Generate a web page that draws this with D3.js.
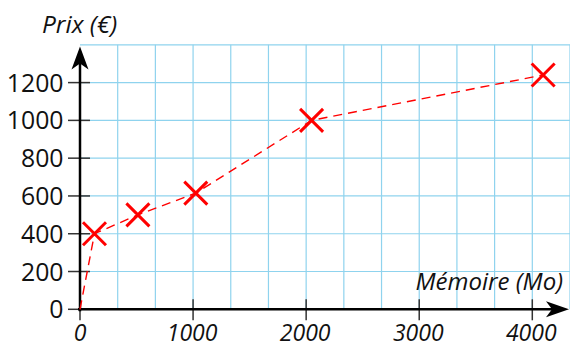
<style>body { margin: 0; } svg { display: block; }</style>
<svg width="570" height="345"></svg>

<script src="https://cdn.jsdelivr.net/npm/d3@7"></script>
<script>
	// memory (Mo) vs price (euros)
	const memoire = [128, 512, 1024, 2048, 4096]
	const prix = [400, 500, 615, 1000, 1240]
	const xTicks = [0, 1000, 2000, 3000, 4000]
	const yTicks = [0, 200, 400, 600, 800, 1000, 1200]

	const svg = d3.select("svg")
		.attr("font-family", "'Open Sans', sans-serif")

	const x = d3.scaleLinear().domain([0, 4000]).range([80, 532.3])
	const y = d3.scaleLinear().domain([0, 1200]).range([309.3, 82.6])

	// grid: every 1000/3 on x, every 200 on y
	const xGrid = d3.range(1, 14).map(i => i * 1000 / 3)
	const yGrid = d3.range(200, 1401, 200)

	const grid = svg.append("g")
		.attr("stroke", "#8fd3ee")
		.attr("stroke-width", 1.2)
	grid.selectAll("line.v")
		.data(xGrid)
		.join("line")
			.attr("class", "v")
			.attr("x1", d => x(d)).attr("x2", d => x(d))
			.attr("y1", y(1400)).attr("y2", y(0))
	grid.selectAll("line.h")
		.data(yGrid)
		.join("line")
			.attr("class", "h")
			.attr("x1", x(0)).attr("x2", 570)
			.attr("y1", d => y(d)).attr("y2", d => y(d))

	// ticks
	svg.append("g")
		.attr("stroke", "#333")
		.attr("stroke-width", 1.5)
		.selectAll("line")
		.data(yTicks)
		.join("line")
			.attr("x1", x(0) - 12).attr("x2", x(0) + 10)
			.attr("y1", d => y(d)).attr("y2", d => y(d))
	svg.append("g")
		.attr("stroke", "#333")
		.attr("stroke-width", 1.5)
		.selectAll("line")
		.data(xTicks)
		.join("line")
			.attr("x1", d => x(d)).attr("x2", d => x(d))
			.attr("y1", y(0) - 10).attr("y2", y(0) + 11)

	// axes with arrows
	svg.append("line")
		.attr("x1", x(0) - 2).attr("x2", 560)
		.attr("y1", y(0)).attr("y2", y(0))
		.attr("stroke", "#000").attr("stroke-width", 2.5)
	svg.append("line")
		.attr("x1", x(0)).attr("x2", x(0))
		.attr("y1", y(0) + 2).attr("y2", 56)
		.attr("stroke", "#000").attr("stroke-width", 2.5)

	const tipX = 569, tipY = 46.5
	svg.append("path")
		.attr("d", `M${tipX},${y(0)} L${tipX - 23},${y(0) - 8} L${tipX - 17},${y(0)} L${tipX - 23},${y(0) + 8} Z`)
		.attr("fill", "#000")
	svg.append("path")
		.attr("d", `M${x(0)},${tipY} L${x(0) - 8.5},${tipY + 23} L${x(0)},${tipY + 17} L${x(0) + 8.5},${tipY + 23} Z`)
		.attr("fill", "#000")

	// tick labels
	svg.append("g")
		.attr("font-size", 24.8)
		.attr("text-anchor", "end")
		.selectAll("text")
		.data(yTicks)
		.join("text")
			.attr("x", 63.5)
			.attr("y", d => y(d) + 9)
			.attr("fill", "#111")
			.text(d => d)
	svg.append("g")
		.attr("font-size", 23)
		.attr("font-style", "italic")
		.attr("text-anchor", "middle")
		.selectAll("text")
		.data(xTicks)
		.join("text")
			.attr("x", d => x(d) + (d === 0 ? 0 : -1))
			.attr("y", 340.5)
			.attr("fill", "#111")
			.text(d => d)

	// axis titles
	svg.append("text")
		.attr("x", 42).attr("y", 33)
		.attr("font-size", 24.5)
		.attr("font-style", "italic")
		.attr("fill", "#111")
		.text("Prix (€)")
	svg.append("text")
		.attr("x", 563).attr("y", 290)
		.attr("font-size", 24)
		.attr("font-style", "italic")
		.attr("text-anchor", "end")
		.attr("fill", "#111")
		.text("Mémoire (Mo)")

	// dashed line from origin through points
	const pts = [[0, 0]].concat(memoire.map((m, i) => [m, prix[i]]))
	svg.append("path")
		.attr("d", d3.line().x(d => x(d[0])).y(d => y(d[1]))(pts))
		.attr("fill", "none")
		.attr("stroke", "#ff0000")
		.attr("stroke-width", 1.4)
		.attr("stroke-dasharray", "9,6")

	// cross markers
	const s = 11.5
	svg.append("g")
		.selectAll("path")
		.data(memoire.map((m, i) => [m, prix[i]]))
		.join("path")
			.attr("d", d => {
				const cx = x(d[0]), cy = y(d[1])
				return `M${cx - s},${cy - s}L${cx + s},${cy + s}M${cx - s},${cy + s}L${cx + s},${cy - s}`
			})
			.attr("stroke", "#ff0000")
			.attr("stroke-width", 3)
</script>
